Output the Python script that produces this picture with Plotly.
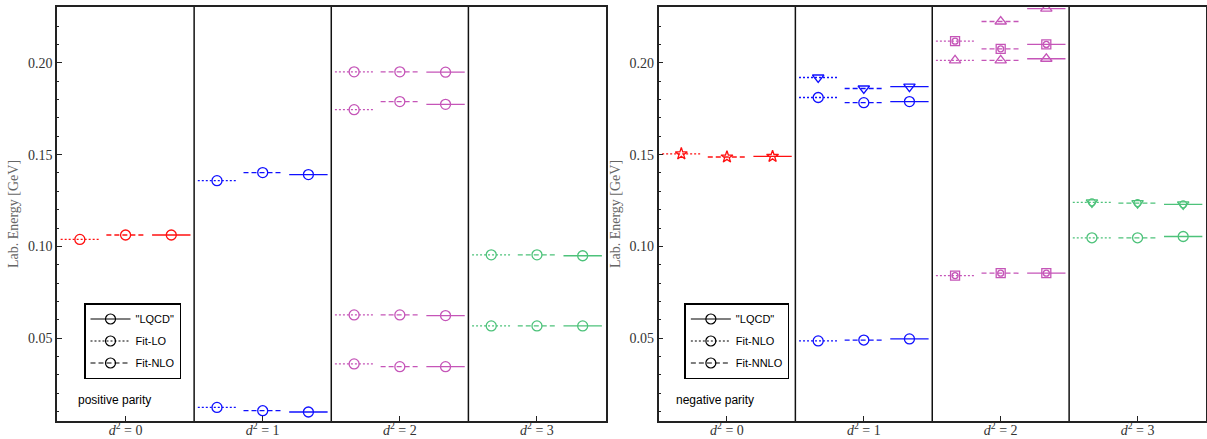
import plotly.graph_objects as go

# ---------------- data ----------------
d2_labels = ["<i>d</i><sup>2</sup> = 0", "<i>d</i><sup>2</sup> = 1",
             "<i>d</i><sup>2</sup> = 2", "<i>d</i><sup>2</sup> = 3"]
y_ticks = [0.05, 0.10, 0.15, 0.20]

# positive parity (all levels drawn with circles)
pos_d2 = [0, 1, 1, 2, 2, 2, 2, 3, 3]
pos_lo = [0.1038, 0.1358, 0.0123, 0.1951, 0.1745, 0.0627, 0.0360, 0.0954, 0.0567]
pos_nlo = [0.1062, 0.1402, 0.0105, 0.1951, 0.1789, 0.0627, 0.0345, 0.0954, 0.0567]
pos_lqcd = [0.1062, 0.1391, 0.0098, 0.1949, 0.1774, 0.0623, 0.0345, 0.0949, 0.0567]
pos_irrep = ["circle"] * 9

# negative parity
neg_d2 = [0, 1, 1, 1, 2, 2, 2, 2, 3, 3]
neg_irrep = ["star", "tri_down", "circle", "circle", "square+circle", "tri_up",
             "tri_up", "square+circle", "tri_down+circle", "circle"]
neg_nlo = [0.1504, 0.1920, 0.1811, 0.0485, 0.2118, 0.2013, None, 0.0841, 0.1240, 0.1047]
neg_nnlo = [0.1487, 0.1860, 0.1783, 0.0490, 0.2076, 0.2013, 0.2225, 0.0854, 0.1236, 0.1047]
neg_lqcd = [0.1490, 0.1870, 0.1789, 0.0496, 0.2100, 0.2022, 0.2295, 0.0854, 0.1229, 0.1054]

legend_pos = ['"LQCD"', "Fit-LO", "Fit-NLO"]
legend_neg = ['"LQCD"', "Fit-NLO", "Fit-NNLO"]

# ---------------- styles ----------------
d2_colors = {0: "#FF1010", 1: "#1010FF", 2: "#C555B8", 3: "#4DC27A"}
order_dash = ["2px,2px", "5px,3px", "solid"]   # lower fit, higher fit, LQCD
order_offset = [-1 / 3, 0.0, 1 / 3]
half_w = 0.14
sym_map = {
    "circle": [("circle-open", 10)],
    "star": [("star-open", 9)],
    "tri_down": [("triangle-down-open", 10)],
    "tri_up": [("triangle-up-open", 10)],
    "square+circle": [("square-open", 9), ("circle-open", 6)],
    "tri_down+circle": [("triangle-down-open", 10), ("circle-open", 7)],
}
serif = "Liberation Serif"
sans = "Liberation Sans"

fig = go.Figure()


def add_panel(xa, ya, d2, irreps, orders):
    for k, vals in enumerate(orders):
        for c in sorted(set(d2)):
            xs, ys = [], []
            for i, v in enumerate(vals):
                if d2[i] != c or v is None:
                    continue
                xc = d2[i] + order_offset[k]
                xs += [xc - half_w, xc + half_w, None]
                ys += [v, v, None]
            fig.add_trace(go.Scatter(x=xs, y=ys, mode="lines", xaxis=xa, yaxis=ya,
                                     line=dict(color=d2_colors[c], width=1.3, dash=order_dash[k]),
                                     showlegend=False, hoverinfo="skip"))
        for i, v in enumerate(vals):
            if v is None:
                continue
            for sym, sz in sym_map[irreps[i]]:
                fig.add_trace(go.Scatter(x=[d2[i] + order_offset[k]], y=[v], mode="markers",
                                         xaxis=xa, yaxis=ya,
                                         marker=dict(symbol=sym, size=sz, color=d2_colors[d2[i]],
                                                     line=dict(width=1.3, color=d2_colors[d2[i]])),
                                         showlegend=False))


add_panel("x", "y", pos_d2, pos_irrep, [pos_lo, pos_nlo, pos_lqcd])
add_panel("x2", "y2", neg_d2, neg_irrep, [neg_nlo, neg_nnlo, neg_lqcd])

# legend entries
leg_dash = ["solid", "2px,2px", "5px,3px"]
for lg, names in (("legend", legend_pos), ("legend2", legend_neg)):
    for j, nm in enumerate(names):
        fig.add_trace(go.Scatter(x=[None], y=[None], mode="lines+markers", name=nm,
                                 legend=lg, legendgroup=lg + str(j),
                                 line=dict(color="black", width=1.2, dash=leg_dash[j]),
                                 marker=dict(symbol="circle-open", size=10, color="black",
                                             line=dict(width=1.2))))

yr = [0.0049, 0.2304]
axis_common = dict(showline=True, mirror=True, linecolor="#222", linewidth=1.5,
                   ticks="inside", tickcolor="#222", showgrid=False, zeroline=False,
                   automargin=False)
xa_common = dict(axis_common, range=[-0.5, 3.5], tickvals=list(range(len(d2_labels))),
                 ticktext=d2_labels, ticklen=5, ticklabelstandoff=-5,
                 tickfont=dict(family=serif, size=14, color="#333"))
ya_common = dict(axis_common, range=yr, tickvals=y_ticks,
                 ticktext=[f"{t:.2f}" for t in y_ticks], ticklen=5,
                 tickfont=dict(family=serif, size=14, color="#333"),
                 minor=dict(dtick=0.01, tick0=0, ticks="inside", ticklen=2.5, tickcolor="#222"),
                 title=dict(text="Lab. Energy [GeV]", font=dict(family=serif, size=14, color="#666"),
                            standoff=6))

shapes = []
for xr in ("x", "x2"):
    for i in range(len(d2_labels) - 1):
        shapes.append(dict(type="line", xref=xr, yref=xr.replace("x", "y") + " domain",
                           x0=i + 0.5, x1=i + 0.5, y0=0, y1=1,
                           line=dict(color="#111", width=1.5)))

fig.update_layout(
    template="none",
    width=1207, height=439,
    margin=dict(l=57, r=1, t=7, b=18),
    paper_bgcolor="white", plot_bgcolor="white",
    xaxis=dict(xa_common, domain=[0, 0.4774], anchor="y"),
    yaxis=dict(ya_common, anchor="x"),
    xaxis2=dict(xa_common, domain=[0.5235, 1], anchor="y2"),
    yaxis2=dict(ya_common, anchor="x2"),
    shapes=shapes,
    legend=dict(x=0.0235, y=0.285, xanchor="left", yanchor="top", bgcolor="white",
                bordercolor="black", borderwidth=1.5, itemwidth=40, tracegroupgap=3,
                font=dict(family=sans, size=11, color="black")),
    legend2=dict(x=0.546, y=0.285, xanchor="left", yanchor="top", bgcolor="white",
                 bordercolor="black", borderwidth=1.5, itemwidth=40, tracegroupgap=3,
                 font=dict(family=sans, size=11, color="black")),
    annotations=[
        dict(text="positive parity", xref="paper", yref="paper", x=0.0165, y=0.0507,
             xanchor="left", yanchor="middle", showarrow=False,
             font=dict(family=sans, size=12, color="black")),
        dict(text="negative parity", xref="paper", yref="paper", x=0.537, y=0.0507,
             xanchor="left", yanchor="middle", showarrow=False,
             font=dict(family=sans, size=12, color="black")),
    ],
)

fig.write_html("out.html")
